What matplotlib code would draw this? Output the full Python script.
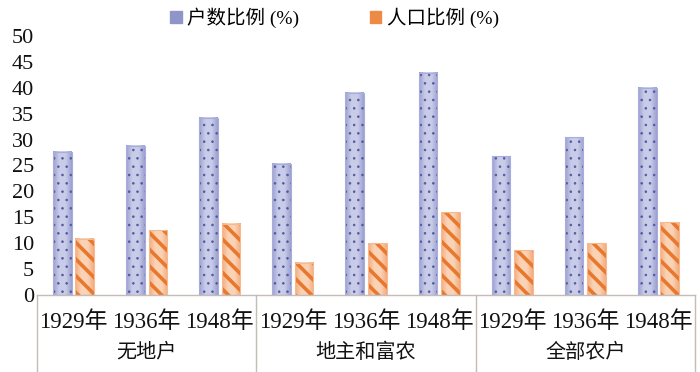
import numpy as np
import matplotlib
matplotlib.use("Agg")
from matplotlib import pyplot as plt
from matplotlib.patches import Patch
from matplotlib.colors import LinearSegmentedColormap

plt.rcParams['font.family'] = ['Liberation Serif', 'Noto Sans CJK SC', 'DejaVu Sans']

years = ['1929年', '1936年', '1948年']
groups = ['无地户', '地主和富农', '全部农户']
household_pct = [27.7, 28.8, 34.2, 25.3, 39.0, 42.9, 26.8, 30.5, 40.0]
population_pct = [10.9, 12.5, 13.8, 6.2, 10.0, 16.0, 8.6, 10.0, 14.0]
legend_labels = ['户数比例 (%)', '人口比例 (%)']

fig = plt.figure(figsize=(7.0, 3.72), dpi=100)
ax = fig.add_axes([37 / 700, 77 / 372, 658 / 700, 259 / 372])

n = len(household_pct)
x = np.arange(n)
w = 0.255
off = 0.153

blue_cmap = LinearSegmentedColormap.from_list('b', ['#9ba0d0', '#c9cce8', '#c9cce8', '#9ba0d0'])
orange_cmap = LinearSegmentedColormap.from_list('o', ['#f3ac7c', '#fad3b6', '#fad3b6', '#f3ac7c'])
grad = np.linspace(0, 1, 64).reshape(1, -1)


def draw_bars(xs, vals, cmap, edge, hatch, hcolor, hlw):
    for xi, v in zip(xs, vals):
        ax.imshow(grad, extent=(xi - w / 2, xi + w / 2, 0, v), cmap=cmap,
                  aspect='auto', zorder=1, interpolation='bilinear')
    with plt.rc_context({'hatch.linewidth': hlw}):
        bars = ax.bar(xs, vals, w, facecolor='none', edgecolor=hcolor,
                      linewidth=0, hatch=hatch, zorder=2)
    for b in bars:
        if hasattr(b, 'set_hatch_linewidth'):
            b.set_hatch_linewidth(hlw)
    ax.bar(xs, vals, w, facecolor='none', edgecolor=edge, linewidth=0.8, zorder=3)


draw_bars(x - off, household_pct, blue_cmap, '#a9addb', '..', '#4f58a3', 0.6)
draw_bars(x + off, population_pct, orange_cmap, '#f6b991', '\\\\', '#e8782d', 2.6)

ax.set_xlim(-0.5, n - 0.5)
ax.set_ylim(0, 50)
ax.set_yticks(np.arange(0, 51, 5))
ax.tick_params(axis='y', length=0, labelsize=16, pad=2, labelcolor='#111111')
ax.set_xticks([])
for s in ['top', 'right', 'left']:
    ax.spines[s].set_visible(False)
ax.spines['bottom'].set_color('#c4bcb6')
ax.spines['bottom'].set_linewidth(1.0)

tr = ax.get_xaxis_transform()
bottom_frac = -77 / 259
for i in range(n):
    ax.text(x[i], -0.104, years[i % 3], transform=tr, ha='center', va='center',
            fontsize=16.5, color='#111111')
for g in range(3):
    ax.text(3 * g + 1, -0.224, groups[g], transform=tr, ha='center', va='center',
            fontsize=14.5, color='#111111')
for xb in [-0.5, 2.5, 5.5, 8.5]:
    ax.plot([xb, xb], [0, bottom_frac], transform=tr, color='#c4bcb6', lw=1.0,
            clip_on=False)

handles = [Patch(facecolor='#8f95c8', edgecolor='#8f95c8'),
           Patch(facecolor='#ec8a46', edgecolor='#ec8a46')]
fig.legend(handles, legend_labels, loc='center', bbox_to_anchor=(0.478, 0.952),
           ncol=2, frameon=False, fontsize=14, handlelength=0.6, handleheight=0.6,
           handletextpad=0.3, columnspacing=3.6)

fig.savefig('out.png', dpi=100)
